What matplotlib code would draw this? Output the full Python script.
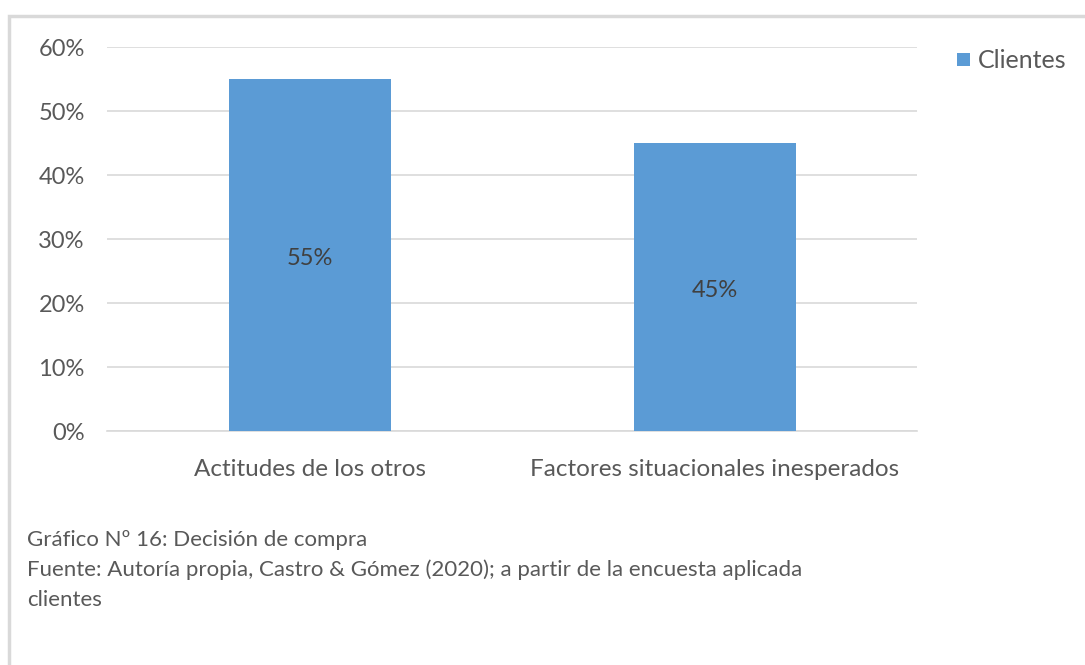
import matplotlib
matplotlib.use("Agg")
import matplotlib.pyplot as plt
from matplotlib.patches import Rectangle
from matplotlib.ticker import PercentFormatter

categories = ["Actitudes de los otros", "Factores situacionales inesperados"]
values = [55, 45]
series_name = "Clientes"
yticks = [0, 10, 20, 30, 40, 50, 60]
caption = ["Gráfico Nº 16: Decisión de compra",
           "Fuente: Autoría propia, Castro & Gómez (2020); a partir de la encuesta aplicada",
           "clientes"]

plt.rcParams['font.family'] = ['Lato', 'DejaVu Sans']
W, H = 1085, 665
fig = plt.figure(figsize=(W / 100, H / 100), dpi=100)

# frame (left and top visible)
fig.add_artist(Rectangle((9 / W, -0.1), 1.2, (H - 16) / H + 0.1, transform=fig.transFigure,
                         fill=False, edgecolor="#D9D9D9", linewidth=2.5))

ax = fig.add_axes([107 / W, 1 - 431 / H, (917 - 107) / W, (431 - 47) / H])
bar_color = "#5B9BD5"
x = list(range(len(categories)))
ax.bar(x, values, width=0.4, color=bar_color, zorder=3)
ax.set_xlim(-0.5, len(categories) - 0.5)
ax.set_ylim(0, 60)
ax.set_yticks(yticks)
ax.yaxis.set_major_formatter(PercentFormatter(decimals=0))
ax.set_xticks(x)
ax.set_xticklabels(categories)
for s in ["top", "right", "left"]:
    ax.spines[s].set_visible(False)
ax.spines["bottom"].set_color("#D9D9D9")
ax.spines["bottom"].set_linewidth(1.2)
ax.grid(axis="y", color="#D9D9D9", linewidth=1.2, zorder=0)
ax.tick_params(axis="both", length=0, colors="#595959")
ax.tick_params(axis="y", pad=16, labelsize=17)
ax.tick_params(axis="x", pad=20, labelsize=17.5)

for xi, v in zip(x, values):
    ax.text(xi, v / 2 - 0.5, f"{v}%", ha="center", va="center", fontsize=17, color="#404040")

# legend
fig.add_artist(Rectangle((957 / W, 1 - 66 / H), 13 / W, 13 / H, transform=fig.transFigure,
                         facecolor=bar_color, edgecolor="none"))
fig.text(978 / W, 1 - 60 / H, series_name, fontsize=18, color="#595959", va="center", ha="left")

for i, line in enumerate(caption):
    fig.text(27 / W, 1 - (540 + 30 * i) / H, line, fontsize=16, color="#595959",
             va="center", ha="left")

fig.savefig("out.png", dpi=100, facecolor="white")
